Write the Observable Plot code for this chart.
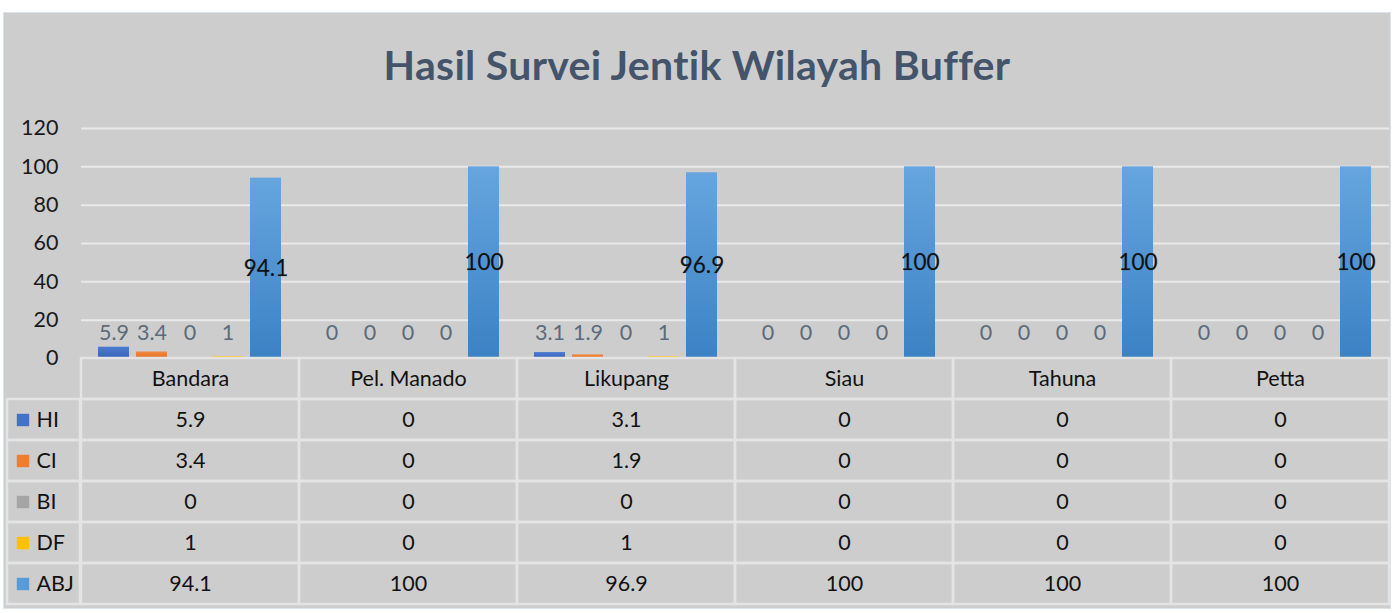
<!DOCTYPE html>
<html>
<head>
<meta charset="utf-8">
<script src="https://cdn.jsdelivr.net/npm/d3@7"></script>
<script src="https://cdn.jsdelivr.net/npm/@observablehq/plot@0.6"></script>
<style>
  body { margin: 0; background: #fff; font-family: Lato, sans-serif; }
  #panel { position: absolute; left: 4px; top: 13px; width: 1386px; height: 595px; background: #cdcdcd; box-shadow: 0 0 0 1px #dde4e9; overflow: hidden; }
  #title { position: absolute; left: 0; width: 100%; top: 31px; text-align: center; font-weight: bold; font-size: 41px; line-height: 41px; letter-spacing: 0.3px; color: #44546a; }
  #chart { position: absolute; left: 0; top: 87px; }
  #legendcol { position: absolute; left: 0; top: 344px; }
  #table { position: absolute; left: 76px; top: 344px; }
  svg { overflow: visible; }
</style>
</head>
<body>
<div id="panel">
  <div id="title">Hasil Survei Jentik Wilayah Buffer</div>
  <div id="chart"></div>
  <div id="legendcol"></div>
  <div id="table"></div>
</div>
<script>
// ---- data ----
const categories = ["Bandara", "Pel. Manado", "Likupang", "Siau", "Tahuna", "Petta"];
const series = ["HI", "CI", "BI", "DF", "ABJ"];
const HI  = [5.9, 0, 3.1, 0, 0, 0];
const CI  = [3.4, 0, 1.9, 0, 0, 0];
const BI  = [0, 0, 0, 0, 0, 0];
const DF  = [1, 0, 1, 0, 0, 0];
const ABJ = [94.1, 100, 96.9, 100, 100, 100];
const yTicks = [0, 20, 40, 60, 80, 100, 120];
const title = "Hasil Survei Jentik Wilayah Buffer";

// ---- styles ----
const solid = { HI: "#4472c4", CI: "#ed7d31", BI: "#a5a5a5", DF: "#ffc000", ABJ: "#5b9bd5" };
const grad = {
  HI: ["#4c7dd2", "#3862b6"],
  CI: ["#f28a45", "#e27020"],
  BI: ["#b2b2b2", "#979797"],
  DF: ["#ffc928", "#f2b500"],
  ABJ: ["#66a5df", "#3b82c4"]
};
const font = "Lato, 'Open Sans', sans-serif";

const valuesBySeries = { HI, CI, BI, DF, ABJ };
const rows = [];
categories.forEach((c, i) => series.forEach(s => rows.push({ category: c, series: s, value: valuesBySeries[s][i] })));

// ---- chart ----
const barMarks = series.map(s =>
  Plot.barY(rows.filter(r => r.series === s), { fx: "category", x: "series", y: "value", fill: `url(#grad-${s})` })
);

const chart = Plot.plot({
  width: 1386, height: 260,
  marginLeft: 76, marginRight: 0, marginTop: 28, marginBottom: 2,
  style: { background: "transparent", fontFamily: font, fontSize: "21px", color: "#1e1e1e" },
  fx: { domain: categories, padding: 0, axis: null, label: null },
  x: { domain: series, paddingInner: 0.18, paddingOuter: 0.39, axis: null },
  y: { domain: [0, 120], axis: null },
  marks: [
    Plot.gridY(yTicks.filter(t => t > 0), { stroke: "#e9e9e9", strokeOpacity: 1, strokeWidth: 2 }),
    Plot.axisY({ ticks: yTicks, tickSize: 0, tickPadding: 23, label: null, fontSize: 21.5, fill: "#1a1a1a" }),
    ...barMarks,
    Plot.text(rows.filter(r => r.series === "ABJ"), {
      fx: "category", x: "series", y: d => d.value / 2, text: d => String(d.value),
      fill: "#111", fontSize: 22.5, stroke: "#35577a", strokeWidth: 0.5, strokeOpacity: 0.6
    }),
    Plot.text(rows.filter(r => r.series !== "ABJ"), {
      fx: "category", x: "series", y: 0, dy: -25, text: d => String(d.value),
      fill: "#5c6b7a", fontSize: 21.5
    })
  ]
});

const defs = d3.select(chart).insert("defs", ":first-child");
series.forEach(s => {
  const g = defs.append("linearGradient").attr("id", `grad-${s}`).attr("x1", 0).attr("y1", 0).attr("x2", 0).attr("y2", 1);
  g.append("stop").attr("offset", "0%").attr("stop-color", grad[s][0]);
  g.append("stop").attr("offset", "100%").attr("stop-color", grad[s][1]);
});
document.getElementById("chart").appendChild(chart);

// ---- data table ----
const rowKeys = ["header", ...series];
const tableCells = [];
categories.forEach((c, i) => {
  tableCells.push({ category: c, row: "header", text: c });
  series.forEach(s => tableCells.push({ category: c, row: s, text: String(valuesBySeries[s][i]) }));
});

const table = Plot.plot({
  width: 1310, height: 248, margin: 0,
  style: { background: "transparent", fontFamily: font, fontSize: "21px" },
  x: { domain: categories, padding: 0, axis: null },
  y: { domain: rowKeys, padding: 0, axis: null },
  marks: [
    Plot.cell(tableCells, { x: "category", y: "row", fill: "none", stroke: "#e4e4e4", strokeWidth: 2.5 }),
    Plot.text(tableCells, { x: "category", y: "row", text: "text", fill: "#121212", fontSize: 21.5 })
  ]
});
document.getElementById("table").appendChild(table);

const legendCol = Plot.plot({
  width: 76, height: 248, margin: 0,
  style: { background: "transparent", fontFamily: font, fontSize: "21px" },
  y: { domain: rowKeys, padding: 0, axis: null },
  color: { type: "identity" },
  marks: [
    Plot.cell(series, { y: d => d, fill: "none", stroke: "#e4e4e4", strokeWidth: 2.5, insetLeft: 3 }),
    Plot.dot(series, { y: d => d, frameAnchor: "left", dx: 18.5, symbol: "square", r: 7, fill: d => solid[d], stroke: null }),
    Plot.text(series, { y: d => d, text: d => d, frameAnchor: "left", dx: 32, textAnchor: "start", fill: "#121212", fontSize: 21.5 })
  ]
});
document.getElementById("legendcol").appendChild(legendCol);
</script>
</body>
</html>
